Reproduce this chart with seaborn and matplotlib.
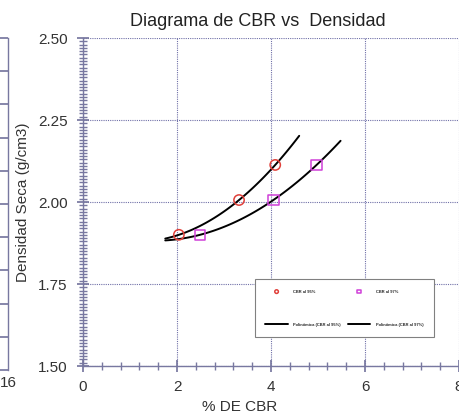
import numpy as np
import pandas as pd
import matplotlib
matplotlib.use("Agg")
import matplotlib.pyplot as plt
from matplotlib.ticker import MultipleLocator
import seaborn as sns

# ---- data ----
cbr_95 = [2.04, 3.32, 4.09]
dens_95 = [1.900, 2.006, 2.113]
cbr_97 = [2.49, 4.05, 4.97]
dens_97 = [1.900, 2.006, 2.113]
trend_range_95 = [1.75, 4.60]
trend_range_97 = [1.75, 5.48]
label_95 = "CBR al 95%"
label_97 = "CBR al 97%"
x_ticks = [0, 2, 4, 6, 8]
y_ticks = [1.50, 1.75, 2.00, 2.25, 2.50]

sns.set_theme(style="white")
plt.rcParams['font.family'] = ['Liberation Sans', 'DejaVu Sans']

W, H = 460, 417
fig = plt.figure(figsize=(W / 100, H / 100), dpi=100)

axis_col = "#7878a0"
grid_col = "#7070a8"
text_col = "#333333"

# neighbouring chart fragment at the far left edge
axn = fig.add_axes([(8 - 300) / W, (H - 370) / H, 300 / W, (370 - 38) / H])
axn.set_xlim(0, 16)
axn.set_ylim(0, 10)
for s in ["top", "left", "bottom"]:
    axn.spines[s].set_visible(False)
axn.spines["right"].set_color(axis_col)
axn.spines["right"].set_linewidth(1.0)
axn.yaxis.tick_right()
axn.set_yticks(range(0, 11))
axn.tick_params(axis="y", direction="in", length=7, color=axis_col, labelright=False, right=True)
axn.set_xticks([16])
axn.set_xticklabels(["16"])
axn.tick_params(axis="x", length=0, labelsize=11, labelcolor=text_col, pad=4)
axn.patch.set_alpha(0)

# main chart
ax = fig.add_axes([83 / W, (H - 366) / H, 376 / W, 328 / H])

df95 = pd.DataFrame({"cbr": cbr_95, "dens": dens_95})
df97 = pd.DataFrame({"cbr": cbr_97, "dens": dens_97})

c95 = np.polyfit(cbr_95, dens_95, 2)
c97 = np.polyfit(cbr_97, dens_97, 2)
xs95 = np.linspace(trend_range_95[0], trend_range_95[1], 100)
xs97 = np.linspace(trend_range_97[0], trend_range_97[1], 100)
t95 = pd.DataFrame({"cbr": xs95, "dens": np.polyval(c95, xs95)})
t97 = pd.DataFrame({"cbr": xs97, "dens": np.polyval(c97, xs97)})

sns.lineplot(data=t95, x="cbr", y="dens", ax=ax, color="black", lw=1.4,
             label="Polinómica (" + label_95 + ")", zorder=3)
sns.lineplot(data=t97, x="cbr", y="dens", ax=ax, color="black", lw=1.4,
             label="Polinómica (" + label_97 + ")", zorder=3)
sns.scatterplot(data=df95, x="cbr", y="dens", ax=ax, marker="o", s=55,
                facecolors="none", edgecolor="#e0403a", linewidth=1.1,
                label=label_95, zorder=4)
sns.scatterplot(data=df97, x="cbr", y="dens", ax=ax, marker="s", s=55,
                facecolors="none", edgecolor="#d040d8", linewidth=1.1,
                label=label_97, zorder=4)

ax.set_xlim(0, 8)
ax.set_ylim(1.50, 2.50)
ax.set_xticks(x_ticks)
ax.set_yticks(y_ticks)
ax.set_yticklabels([f"{v:.2f}" for v in y_ticks])
ax.xaxis.set_minor_locator(MultipleLocator(0.4))
ax.yaxis.set_minor_locator(MultipleLocator(0.01))

ax.grid(True, which="major", color=grid_col, linestyle=(0, (1, 1)), linewidth=0.8)
for s in ["top", "right"]:
    ax.spines[s].set_visible(False)
for s in ["left", "bottom"]:
    ax.spines[s].set_color(axis_col)
    ax.spines[s].set_linewidth(1.0)
ax.tick_params(which="major", direction="inout", length=8, color=axis_col,
               labelsize=11, labelcolor=text_col, left=True, bottom=True)
ax.tick_params(which="minor", direction="inout", length=6, color=axis_col,
               left=True, bottom=True)
ax.tick_params(axis="x", which="major", pad=6)
ax.tick_params(axis="y", which="major", pad=7)

ax.set_title("Diagrama de CBR vs  Densidad", fontsize=13, color="#222222",
             x=(258 - 83) / 376, pad=9)
ax.set_xlabel("% DE CBR", fontsize=11, color=text_col)
ax.set_ylabel("Densidad Seca (g/cm3)", fontsize=11, color=text_col)
ax.xaxis.set_label_coords((240 - 83) / 376, -0.105)
ax.yaxis.set_label_coords(-0.141, 0.5)

h, l = ax.get_legend_handles_labels()
order = [2, 0, 3, 1]
leg = ax.legend([h[i] for i in order], [l[i] for i in order], ncol=2,
                loc="lower left", bbox_to_anchor=(0.457, 0.088, 0.477, 0.177),
                mode="expand", fontsize=2.9, frameon=True, fancybox=False,
                edgecolor="#808080", framealpha=1, borderpad=2.6,
                labelspacing=7.2, handlelength=5.6, handletextpad=1.4,
                markerscale=0.35, borderaxespad=0)
leg.get_frame().set_linewidth(0.8)
for t in leg.get_texts():
    t.set_fontweight("bold")

fig.savefig("out.png", dpi=100)
